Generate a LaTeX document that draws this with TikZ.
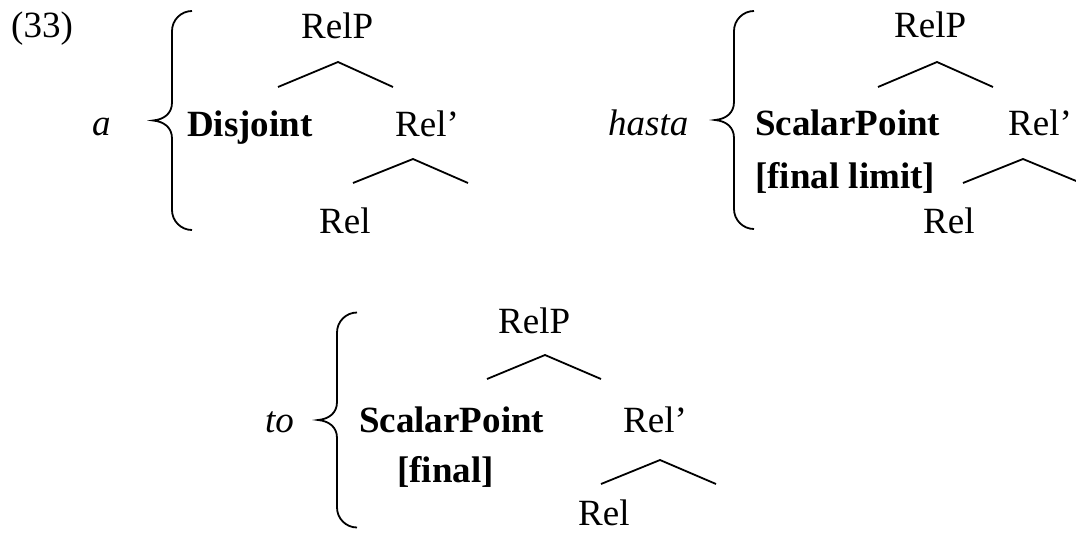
\documentclass[tikz,border=0pt]{standalone}
\usepackage{fontspec}
\setmainfont{Liberation Serif}

% curly brace: tip at (#1,#2), half height #3
\newcommand{\drawcurly}[3]{%
  \draw[bracepath] ({#1+39},{#2-#3})
    .. controls ({#1+28},{#2-#3}) and ({#1+19},{#2-#3+9}) .. ({#1+19},{#2-#3+20})
    -- ({#1+19},{#2-18})
    .. controls ({#1+19},{#2-7}) and ({#1+11},{#2-1}) .. (#1,#2)
    .. controls ({#1+11},{#2+1}) and ({#1+19},{#2+7}) .. ({#1+19},{#2+18})
    -- ({#1+19},{#2+#3-20})
    .. controls ({#1+19},{#2+#3-9}) and ({#1+28},{#2+#3}) .. ({#1+39},{#2+#3});}

\begin{document}
\begin{tikzpicture}[x=1pt,y=-1pt,
  lbl/.style={anchor=base west, inner sep=0pt, font=\fontsize{37}{44}\selectfont},
  bold/.style={lbl, font=\fontsize{37}{44}\selectfont\bfseries},
  ital/.style={lbl, font=\fontsize{37}{44}\selectfont\itshape},
  roof/.style={line width=1.8pt, line join=miter},
  bracepath/.style={line width=1.8pt}]
\useasboundingbox (0,0) rectangle (1076,533);

% ---- example number
\node[lbl] (num) at (11,37) {(33)};

% ---- a
\node[ital] (a-word) at (92,135) {a};
\drawcurly{153}{120.5}{109.5}
\node[lbl]  (a-top)  at (301,38)  {RelP};
\node[bold] (a-spec) at (187,136) {Disjoint};
\node[lbl]  (a-bar)  at (395,136) {Rel’};
\node[lbl]  (a-head) at (319,233) {Rel};
\coordinate (a-r1l) at (278,87);  \coordinate (a-r1t) at (338,62);  \coordinate (a-r1r) at (393,87);
\coordinate (a-r2l) at (353,183); \coordinate (a-r2t) at (413,159); \coordinate (a-r2r) at (468,183);
\draw[roof] (a-r1l) -- (a-r1t) -- (a-r1r);
\draw[roof] (a-r2l) -- (a-r2t) -- (a-r2r);

% ---- hasta
\node[ital] (h-word) at (608,135) {hasta};
\drawcurly{715}{120}{109}
\node[lbl]  (h-top)   at (894,37)   {RelP};
\node[bold] (h-spec)  at (755,135)  {ScalarPoint};
\node[bold] (h-feat)  at (755,188)  {[final limit]};
\node[lbl]  (h-bar)   at (1008,135) {Rel’};
\node[lbl]  (h-head)  at (923,233)  {Rel};
\coordinate (h-r1l) at (878,87);  \coordinate (h-r1t) at (937,62);  \coordinate (h-r1r) at (993,87);
\coordinate (h-r2l) at (963,183); \coordinate (h-r2t) at (1023,159); \coordinate (h-r2r) at (1081,183);
\draw[roof] (h-r1l) -- (h-r1t) -- (h-r1r);
\draw[roof] (h-r2l) -- (h-r2t) -- (h-r2r);

% ---- to
\node[ital] (t-word) at (265,432) {to};
\drawcurly{318}{420}{107.5}
\node[lbl]  (t-top)   at (498,333) {RelP};
\node[bold] (t-spec)  at (359,432) {ScalarPoint};
\node[bold] (t-feat)  at (397,482) {[final]};
\node[lbl]  (t-bar)   at (623,432) {Rel’};
\node[lbl, text depth=0pt] (t-head) at (578,525) {Rel};
\coordinate (t-r1l) at (487,379); \coordinate (t-r1t) at (545,355); \coordinate (t-r1r) at (601,379);
\coordinate (t-r2l) at (601,484); \coordinate (t-r2t) at (660,460); \coordinate (t-r2r) at (716,484);
\draw[roof] (t-r1l) -- (t-r1t) -- (t-r1r);
\draw[roof] (t-r2l) -- (t-r2t) -- (t-r2r);
\end{tikzpicture}
\end{document}
